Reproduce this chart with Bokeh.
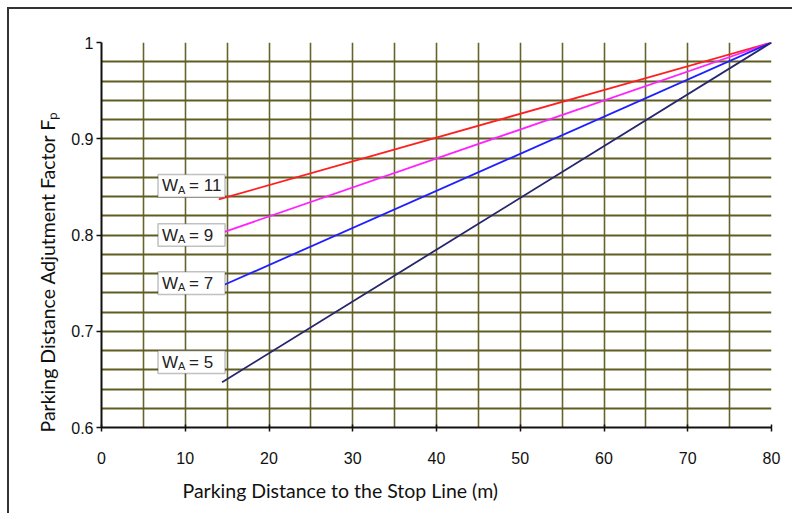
from bokeh.plotting import figure
from bokeh.models import Range1d, FixedTicker, Label, BoxAnnotation, Title
from bokeh.embed import file_html
from bokeh.resources import INLINE

# ---- data ----
wa_values = [11, 9, 7, 5]
line_colors = ["#ff1f1f", "#ff22ff", "#1f1fff", "#26266e"]
x_start = [14.0, 14.6, 14.6, 14.4]
y_start = [0.837, 0.803, 0.748, 0.647]
x_end = [80, 80, 80, 80]
y_end = [1.0, 1.0, 1.0, 1.0]

x_ticks = [0, 10, 20, 30, 40, 50, 60, 70, 80]
y_ticks = [0.6, 0.7, 0.8, 0.9, 1.0]
y_tick_labels = {0.6: "0.6", 0.7: "0.7", 0.8: "0.8", 0.9: "0.9", 1.0: "1"}
x_grid = [0, 5, 10, 15, 20, 25, 30, 35, 40, 45, 50, 55, 60, 65, 70, 75, 80]
y_grid = [0.6, 0.62, 0.64, 0.66, 0.68, 0.7, 0.72, 0.74, 0.76, 0.78, 0.8,
          0.82, 0.84, 0.86, 0.88, 0.9, 0.92, 0.94, 0.96, 0.98, 1.0]

# label boxes (data units)
box_left = 6.75
box_right = 14.75
box_center_y = [0.851, 0.800, 0.750, 0.668]
box_half_h = 0.0118

x_title = "Parking Distance to the Stop Line (m)"
y_title = "Parking Distance Adjutment Factor F\u209a"

TICK_FONT = "Liberation Sans"
TITLE_FONT = "Lato"
BOX_FONT = "Liberation Sans"

p = figure(width=785, height=506, output_backend="svg", toolbar_location=None,
           x_range=Range1d(0, 80), y_range=Range1d(0.6, 1.0),
           min_border_left=92, min_border_right=23, min_border_top=33, min_border_bottom=88)
p.margin = (9, 0, 0, 9)
p.styles = {"box-shadow": "-2px -2px 0 0 #333333"}
p.outline_line_color = None
p.background_fill_color = "white"
p.border_fill_color = "white"

# grid
p.xgrid.ticker = FixedTicker(ticks=x_grid)
p.ygrid.ticker = FixedTicker(ticks=y_grid)
p.xgrid.grid_line_color = "#66642a"
p.ygrid.grid_line_color = "#5f5d22"
p.xgrid.grid_line_width = 1.6
p.ygrid.grid_line_width = 2.2

# axes
p.xaxis.ticker = FixedTicker(ticks=x_ticks)
p.yaxis.ticker = FixedTicker(ticks=y_ticks)
p.yaxis.major_label_overrides = y_tick_labels
for ax in (p.xaxis, p.yaxis):
    ax.axis_line_color = "#111111"
    ax.axis_line_width = 2
    ax.major_tick_line_color = "#111111"
    ax.major_tick_line_width = 1.5
    ax.minor_tick_line_color = None
    ax.major_label_text_font = TICK_FONT
    ax.major_label_text_font_size = "16px"
    ax.major_label_text_color = "#111111"
p.xaxis.major_tick_in = 3
p.xaxis.major_tick_out = 4
p.xaxis.major_label_standoff = 20
p.yaxis.major_tick_in = 0
p.yaxis.major_tick_out = 5
p.yaxis.major_label_standoff = 3

# lines
for i in range(len(wa_values)):
    p.line([x_start[i], x_end[i]], [y_start[i], y_end[i]],
           line_color=line_colors[i], line_width=1.8)

# label boxes with subscript text
for i, wa in enumerate(wa_values):
    yc = box_center_y[i]
    p.add_layout(BoxAnnotation(left=box_left, right=box_right,
                               bottom=yc - box_half_h, top=yc + box_half_h,
                               fill_color="white", fill_alpha=1.0,
                               line_color="#333333", line_width=1.5))
    p.add_layout(Label(x=box_left, y=yc, x_offset=4, y_offset=0, text="W",
                       text_font=BOX_FONT, text_font_size="17px",
                       text_baseline="middle", text_color="#222222"))
    p.add_layout(Label(x=box_left, y=yc, x_offset=20, y_offset=-4, text="A",
                       text_font=BOX_FONT, text_font_size="11px",
                       text_baseline="middle", text_color="#222222"))
    p.add_layout(Label(x=box_left, y=yc, x_offset=31, y_offset=0, text="= %d" % wa,
                       text_font=BOX_FONT, text_font_size="17px",
                       text_baseline="middle", text_color="#222222"))

# axis titles (placed as titles so they can sit off-centre like the original)
p.add_layout(Title(text=x_title, align="left", offset=81, standoff=20,
                   text_font=TITLE_FONT, text_font_size="19.5px",
                   text_font_style="normal", text_color="#111111"), "below")
p.add_layout(Title(text=y_title, align="left", offset=-5, standoff=20,
                   text_font=TITLE_FONT, text_font_size="19.5px",
                   text_font_style="normal", text_color="#111111"), "left")

open("out.html", "w").write(file_html(p, INLINE))
